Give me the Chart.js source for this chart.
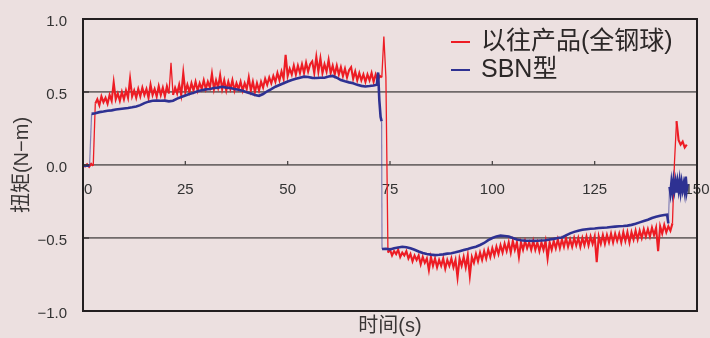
<!DOCTYPE html>
<html>
<head>
<meta charset="utf-8">
<script src="https://cdn.jsdelivr.net/npm/chart.js@4.4.1/dist/chart.umd.min.js"></script>
<style>
  html, body { margin: 0; padding: 0; background: #ece0e0; }
  canvas { display: block; }
</style>
</head>
<body>
<canvas id="torqueChart" width="710" height="338"></canvas>
<script>
// Series names and colours
const seriesNames = ['以往产品(全钢球)', 'SBN型'];
const seriesColors = ['#ed1c24', '#2e3192'];

// Previous product (all-steel balls): torque sampled every 0.5 s from t = 0 s
const steelStart = 0;
const steelStep = 0.5;
const steelTorque = [
  0, -0.01, 0.005, -0.012, 0.008, -0.005, 0.42, 0.45, 0.41, 0.47,
  0.43, 0.46, 0.42, 0.48, 0.44, 0.565, 0.45, 0.49, 0.44, 0.50,
  0.45, 0.51, 0.46, 0.59, 0.47, 0.51, 0.46, 0.52, 0.47, 0.53,
  0.48, 0.52, 0.46, 0.55, 0.48, 0.52, 0.47, 0.54, 0.48, 0.53,
  0.47, 0.54, 0.49, 0.70, 0.48, 0.53, 0.49, 0.55, 0.48, 0.63,
  0.50, 0.55, 0.50, 0.56, 0.51, 0.57, 0.51, 0.56, 0.52, 0.58,
  0.52, 0.57, 0.53, 0.625, 0.52, 0.58, 0.53, 0.615, 0.52, 0.58,
  0.51, 0.57, 0.52, 0.58, 0.51, 0.56, 0.52, 0.57, 0.51, 0.56,
  0.52, 0.60, 0.51, 0.57, 0.50, 0.56, 0.51, 0.57, 0.53, 0.59,
  0.55, 0.60, 0.56, 0.61, 0.57, 0.63, 0.58, 0.64, 0.59, 0.755,
  0.61, 0.66, 0.62, 0.68, 0.62, 0.68, 0.63, 0.69, 0.63, 0.70,
  0.64, 0.69, 0.71, 0.63, 0.74, 0.64, 0.73, 0.63, 0.69, 0.64,
  0.72, 0.63, 0.68, 0.62, 0.68, 0.62, 0.67, 0.61, 0.66, 0.60,
  0.65, 0.67, 0.59, 0.64, 0.58, 0.63, 0.58, 0.62, 0.57, 0.62,
  0.58, 0.63, 0.57, 0.62, 0.58, 0.61, 0.60, 0.88, 0.60, -0.60,
  -0.58, -0.62, -0.59, -0.61, -0.58, -0.63, -0.60, -0.62, -0.59, -0.64,
  -0.61, -0.66, -0.62, -0.65, -0.62, -0.68, -0.63, -0.67, -0.64, -0.72,
  -0.63, -0.69, -0.64, -0.70, -0.65, -0.69, -0.64, -0.71, -0.65, -0.69,
  -0.64, -0.70, -0.65, -0.77, -0.64, -0.69, -0.63, -0.70, -0.62, -0.76,
  -0.63, -0.67, -0.61, -0.66, -0.60, -0.65, -0.59, -0.64, -0.58, -0.63,
  -0.57, -0.62, -0.56, -0.61, -0.55, -0.60, -0.54, -0.59, -0.53, -0.60,
  -0.52, -0.58, -0.53, -0.63, -0.53, -0.58, -0.52, -0.57, -0.53, -0.58,
  -0.52, -0.58, -0.53, -0.59, -0.53, -0.58, -0.52, -0.64, -0.53, -0.58,
  -0.52, -0.57, -0.51, -0.57, -0.51, -0.56, -0.50, -0.56, -0.51, -0.56,
  -0.50, -0.55, -0.50, -0.56, -0.50, -0.55, -0.49, -0.55, -0.49, -0.54,
  -0.49, -0.665, -0.49, -0.54, -0.48, -0.54, -0.48, -0.53, -0.47, -0.53,
  -0.47, -0.52, -0.47, -0.53, -0.46, -0.52, -0.46, -0.53, -0.46, -0.51,
  -0.45, -0.51, -0.45, -0.50, -0.44, -0.49, -0.44, -0.49, -0.43, -0.48,
  -0.43, -0.59, -0.42, -0.47, -0.41, -0.46, -0.42, -0.45, -0.40, 0.02,
  0.30, 0.17, 0.14, 0.16, 0.12, 0.14
];

// SBN type: time (s) and torque (N-m) pairs
const sbnTime = [
  0, 1, 1.6, 2.1, 3, 4, 5, 6, 7, 8, 9, 10, 11, 12, 13, 14, 15, 16, 17, 18, 19, 20,
  21, 22, 23, 24, 25, 26, 27, 28, 29, 30, 31, 32, 33, 34, 35, 36, 37, 38, 39, 40,
  41, 42, 43, 44, 45, 46, 47, 48, 49, 50, 51, 52, 53, 54, 55, 56, 57, 58, 59, 60,
  61, 62, 63, 64, 65, 66, 67, 68, 69, 70, 71, 71.8, 72.1, 72.4, 72.7, 72.95, 73.05,
  74, 75, 76, 77, 78, 79, 80, 81, 82, 83, 84, 85, 86, 87, 88, 89, 90,
  91, 92, 93, 94, 95, 96, 97, 98, 99, 100, 101, 102, 103, 104, 105, 106, 107, 108, 109, 110,
  111, 112, 113, 114, 115, 116, 117, 118, 119, 120, 121, 122, 123, 124, 125, 126, 127, 128, 129, 130,
  131, 132, 133, 134, 135, 136, 137, 138, 139, 140, 141, 142, 142.7, 143, 143.3, 143.5, 143.75,
  144, 144.25, 144.5, 144.75, 145, 145.25, 145.5, 145.75, 146, 146.25, 146.5, 146.75,
  147, 147.25, 147.5, 147.7
];
const sbnTorque = [
  -0.005, -0.005, -0.004, 0.35, 0.355, 0.362, 0.366, 0.372, 0.374, 0.38, 0.384, 0.387, 0.39, 0.395, 0.401, 0.41, 0.424, 0.434, 0.44, 0.442, 0.44, 0.441,
  0.436, 0.44, 0.455, 0.466, 0.476, 0.486, 0.494, 0.505, 0.512, 0.518, 0.521, 0.527, 0.53, 0.536, 0.53, 0.527, 0.52, 0.515, 0.508, 0.499,
  0.49, 0.479, 0.474, 0.486, 0.505, 0.52, 0.536, 0.548, 0.56, 0.572, 0.582, 0.59, 0.598, 0.605, 0.603, 0.597, 0.596, 0.598, 0.598, 0.606,
  0.61, 0.598, 0.582, 0.573, 0.566, 0.56, 0.549, 0.542, 0.538, 0.541, 0.545, 0.55, 0.634, 0.44, 0.33, 0.30, -0.575,
  -0.574, -0.578, -0.57, -0.565, -0.56, -0.563, -0.57, -0.58, -0.592, -0.603, -0.61, -0.614, -0.617, -0.615, -0.612, -0.607, -0.604,
  -0.598, -0.59, -0.582, -0.575, -0.567, -0.56, -0.548, -0.534, -0.515, -0.5, -0.489, -0.484, -0.486, -0.49, -0.5, -0.51, -0.515, -0.518, -0.519, -0.52,
  -0.519, -0.517, -0.515, -0.51, -0.506, -0.5, -0.496, -0.482, -0.468, -0.458, -0.45, -0.444, -0.44, -0.437, -0.435, -0.432, -0.43, -0.428, -0.425, -0.422,
  -0.42, -0.418, -0.415, -0.41, -0.402, -0.393, -0.384, -0.375, -0.363, -0.355, -0.348, -0.342, -0.34, -0.40, -0.15, -0.19, -0.12,
  -0.18, -0.11, -0.17, -0.12, -0.19, -0.12, -0.17, -0.11, -0.18, -0.12, -0.17, -0.13,
  -0.18, -0.08, -0.17, -0.13
];

const TEXT_FONT = '"Liberation Sans", "Noto Sans CJK SC", sans-serif';

const steelPoints = steelTorque.map((v, i) => ({ x: steelStart + i * steelStep, y: v }));
const sbnPoints = sbnTorque.map((v, i) => ({ x: sbnTime[i], y: v }));

// Jumps between levels are drawn as thin strokes
const isJump = c => Math.abs(c.p1.parsed.y - c.p0.parsed.y) > 0.2;

// Pinkish page background behind the whole chart
const pageBackground = {
  id: 'pageBackground',
  beforeDraw(chart) {
    const { ctx, width, height } = chart;
    ctx.save();
    ctx.fillStyle = '#ece0e0';
    ctx.fillRect(0, 0, width, height);
    ctx.restore();
  }
};

// Time axis drawn along the zero line: small inward ticks and labels below
const zeroLineAxis = {
  id: 'zeroLineAxis',
  beforeDatasetsDraw(chart) {
    const { ctx, scales: { x, y } } = chart;
    const y0 = y.getPixelForValue(0);
    ctx.save();
    ctx.strokeStyle = '#4a4646';
    ctx.lineWidth = 1.3;
    ctx.fillStyle = '#333333';
    ctx.font = '15px ' + TEXT_FONT;
    ctx.textBaseline = 'middle';
    x.ticks.forEach(t => {
      const px = x.getPixelForValue(t.value);
      if (t.value > x.min && t.value < x.max) {
        ctx.beginPath();
        ctx.moveTo(px, y0);
        ctx.lineTo(px, y0 - 4);
        ctx.stroke();
      }
      const atStart = t.value === x.min;
      ctx.textAlign = atStart ? 'left' : 'center';
      ctx.fillText(String(t.value), atStart ? px + 1 : px, y0 + 25);
    });
    ctx.restore();
  }
};

// Frame around the plot area plus short inward marks on the torque axis
const plotFrame = {
  id: 'plotFrame',
  afterDatasetsDraw(chart) {
    const { ctx, chartArea: a, scales: { y } } = chart;
    ctx.save();
    ctx.strokeStyle = '#3a3434';
    ctx.lineWidth = 1.5;
    y.ticks.forEach(t => {
      if (Math.abs(t.value) < 1) {
        const py = y.getPixelForValue(t.value);
        ctx.beginPath();
        ctx.moveTo(a.left, py);
        ctx.lineTo(a.left + 6, py);
        ctx.stroke();
      }
    });
    ctx.strokeStyle = '#231f20';
    ctx.lineWidth = 2;
    ctx.strokeRect(a.left, a.top, a.right - a.left, a.bottom - a.top);
    ctx.restore();
  }
};

// Legend in the upper right corner of the plot
const cornerLegend = {
  id: 'cornerLegend',
  afterDraw(chart) {
    const { ctx, chartArea: a } = chart;
    ctx.save();
    ctx.font = '25px ' + TEXT_FONT;
    ctx.textAlign = 'left';
    ctx.textBaseline = 'middle';
    chart.data.datasets.forEach((ds, i) => {
      const rowY = a.top + 23 + i * 28;
      ctx.strokeStyle = ds.borderColor;
      ctx.lineWidth = 2;
      ctx.beginPath();
      ctx.moveTo(a.right - 246, rowY);
      ctx.lineTo(a.right - 227, rowY);
      ctx.stroke();
      ctx.fillStyle = '#2b2727';
      ctx.fillText(ds.label, a.right - 216, rowY);
    });
    ctx.restore();
  }
};

new Chart(document.getElementById('torqueChart'), {
  type: 'line',
  data: {
    datasets: [
      {
        label: seriesNames[0],
        data: steelPoints,
        borderColor: seriesColors[0],
        borderWidth: 2.1,
        order: 1,
        segment: {
          borderWidth: c => isJump(c) ? 1.3 : undefined
        }
      },
      {
        label: seriesNames[1],
        data: sbnPoints,
        borderColor: seriesColors[1],
        borderWidth: 2.6,
        order: 0,
        segment: {
          borderColor: c => isJump(c) ? 'rgba(46,49,146,0.55)' : undefined,
          borderWidth: c => isJump(c) ? 1.2 : undefined
        }
      }
    ]
  },
  options: {
    responsive: false,
    animation: false,
    devicePixelRatio: 1,
    layout: { padding: { top: 19, right: 13, left: 0, bottom: 0 } },
    elements: { point: { radius: 0 }, line: { tension: 0 } },
    plugins: { legend: { display: false }, tooltip: { enabled: false } },
    scales: {
      x: {
        type: 'linear',
        min: 0,
        max: 150,
        ticks: { display: false, stepSize: 25 },
        grid: { display: false },
        border: { display: false },
        title: {
          display: true,
          text: '时间(s)',
          color: '#3a3636',
          font: { family: TEXT_FONT, size: 20 },
          padding: { top: 0, bottom: 0 }
        },
        afterFit(scale) { scale.height = 27; }
      },
      y: {
        type: 'linear',
        min: -1,
        max: 1,
        ticks: {
          stepSize: 0.5,
          padding: 16,
          labelOffset: 2.5,
          color: '#333333',
          font: { family: TEXT_FONT, size: 15 },
          callback: v => (v < 0 ? '\u2212' : '') + Math.abs(v).toFixed(1)
        },
        grid: {
          drawTicks: false,
          lineWidth: 1.8,
          color: c => Math.abs(c.tick.value) === 1 ? 'rgba(0,0,0,0)' : '#706a6a'
        },
        border: { display: false },
        title: {
          display: true,
          text: '扭矩(N\u2212m)',
          color: '#3a3636',
          font: { family: TEXT_FONT, size: 20 },
          padding: { top: 10, bottom: 0 }
        },
        afterFit(scale) {
          scale.width = 83;
          scale.paddingTop = 0;
          scale.paddingBottom = 0;
        }
      }
    }
  },
  plugins: [pageBackground, zeroLineAxis, plotFrame, cornerLegend]
});
</script>
</body>
</html>
